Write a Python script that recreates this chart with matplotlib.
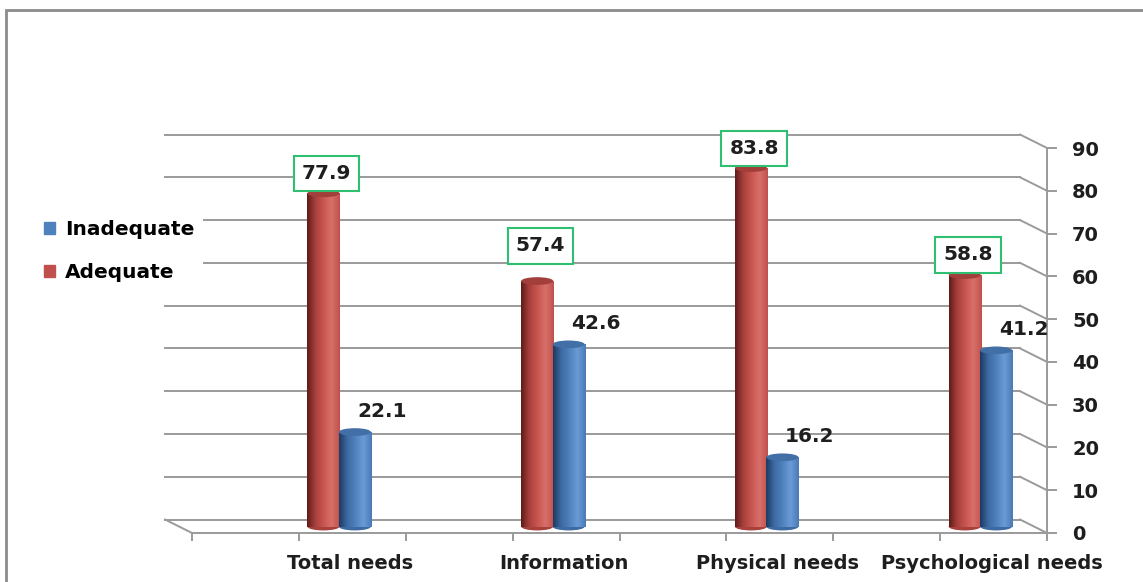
import matplotlib.pyplot as plt
import numpy as np
import matplotlib.transforms as mtransforms
from matplotlib.patches import Rectangle, Ellipse, Patch
from matplotlib.colors import LinearSegmentedColormap

# data
categories = ['Total needs', 'Information', 'Physical needs', 'Psychological needs']
adequate = [77.9, 57.4, 83.8, 58.8]
inadequate = [22.1, 42.6, 16.2, 41.2]
yticks = [0, 10, 20, 30, 40, 50, 60, 70, 80, 90]

# layout helpers (label nudges above the bars)
red_label_off = [6.1, 9.7, 6.1, 6.2]
blue_label_off = 6.3
base = 1.5          # bars stand in the middle of the floor depth
bar_w = 0.15

plt.rcParams['font.family'] = ['DejaVu Sans']
plt.rcParams['font.weight'] = 'bold'

fig = plt.figure(figsize=(11.43, 5.82), dpi=100)
ax = fig.add_axes([192 / 1143, 49 / 582, 855 / 1143, 385 / 582])
xmin, xmax = -0.69, 3.31
ax.set_xlim(xmin, xmax)
ax.set_ylim(0, 90)

grid_c = '#9a9a9a'
# back wall / floor offset
back = ax.transData + mtransforms.ScaledTranslation(-27 / 100, 13.5 / 100, fig.dpi_scale_trans)
inv = ax.transData.inverted()

for v in yticks:
    ax.plot([xmin, xmax], [v, v], color=grid_c, lw=1.4, transform=back, clip_on=False, zorder=1)
    # diagonal from back wall to front axis
    a = inv.transform(back.transform((xmax, v)))
    ax.plot([a[0], xmax], [a[1], v], color=grid_c, lw=1.4, clip_on=False, zorder=1)

# left floor diagonal
a = inv.transform(back.transform((xmin, 0)))
ax.plot([a[0], xmin], [a[1], 0], color=grid_c, lw=1.4, clip_on=False, zorder=1)

red_cmap = LinearSegmentedColormap.from_list('r', ['#5e1b19', '#a8403c', '#c9554f', '#d8706a', '#c0504d'])
blue_cmap = LinearSegmentedColormap.from_list('b', ['#1d3a60', '#3e6aa3', '#4f81bd', '#6a9bd6', '#4a7ab5'])
grad = np.linspace(0, 1, 128).reshape(1, -1)


def cylinder(x, h, cmap, top_c, bot_c):
    r = ax.bar(x, h, bar_w, bottom=base, facecolor='none', lw=0, zorder=3)[0]
    im = ax.imshow(grad, cmap=cmap, extent=(x - bar_w / 2, x + bar_w / 2, base, base + h),
                   aspect='auto', interpolation='bicubic', zorder=3)
    im.set_clip_path(r)
    ax.add_patch(Ellipse((x, base), bar_w, 1.8, fc=bot_c, ec='none', zorder=2.9))
    ax.add_patch(Ellipse((x, base + h), bar_w, 1.8, fc=top_c, ec='none', zorder=4))


xs = np.arange(len(categories))
for i in xs:
    cylinder(i - 0.075, adequate[i], red_cmap, '#a23f3b', '#a8403c')
    cylinder(i + 0.072, inadequate[i], blue_cmap, '#426fa6', '#3e6aa3')
    ax.text(i - 0.06, adequate[i] + red_label_off[i], f'{adequate[i]}', ha='center', va='center',
            fontsize=14.5, color='#1e1e1e', zorder=6,
            bbox=dict(boxstyle='square,pad=0.4', fc='white', ec='#2fbf71', lw=1.5))
    ax.text(i + 0.2, inadequate[i] + blue_label_off, f'{inadequate[i]}', ha='center', va='center',
            fontsize=14.5, color='#1e1e1e', zorder=6)

ax.set_xlim(xmin, xmax)
ax.set_ylim(0, 90)

# axes look
for s in ['top', 'left']:
    ax.spines[s].set_visible(False)
ax.spines['right'].set_color(grid_c)
ax.spines['right'].set_linewidth(1.4)
ax.spines['bottom'].set_color(grid_c)
ax.spines['bottom'].set_linewidth(1.4)
ax.yaxis.tick_right()
ax.set_yticks(yticks)
ax.tick_params(axis='y', direction='out', length=7, width=1.4, color=grid_c,
               labelsize=14, pad=11, labelcolor='#1e1e1e')

ax.set_xticks(xs + 0.05)
ax.set_xticklabels(categories, fontsize=14, color='#1e1e1e')
ax.set_xticks(np.arange(xmin, xmax + 0.01, 0.5), minor=True)
ax.tick_params(axis='x', which='major', length=0, pad=15)
ax.tick_params(axis='x', which='minor', direction='out', length=6, width=1.4, color=grid_c)
ax.patch.set_visible(False)

handles = [Patch(color='#4f81bd', label='Inadequate'), Patch(color='#c0504d', label='Adequate')]
fig.legend(handles=handles, loc='upper left', bbox_to_anchor=(26 / 1143, 1 - 202 / 582),
           frameon=True, facecolor='white', edgecolor='none', framealpha=1,
           handlelength=0.55, handleheight=0.55, handletextpad=0.5, labelspacing=1.2,
           prop={'size': 14.5, 'weight': 'bold'})

# outer frame
fig.patches.append(Rectangle((6 / 1143, -0.02), 1.1, 1 - 10 / 582 + 0.02, transform=fig.transFigure,
                             fill=False, ec='#8c8c8c', lw=2))

fig.savefig('out.png', dpi=100)
